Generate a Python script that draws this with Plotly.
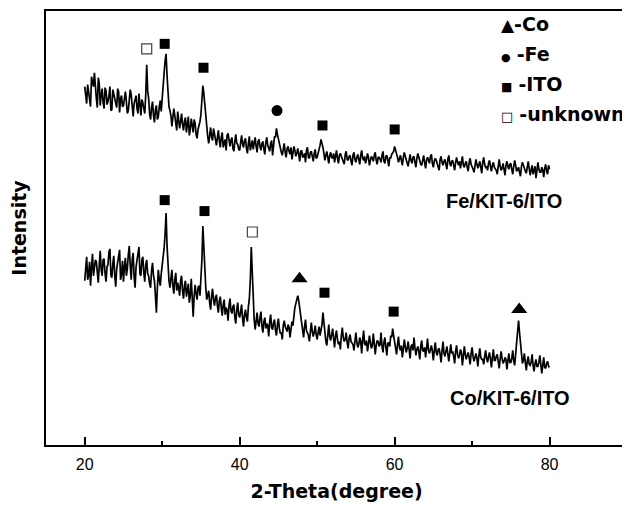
import plotly.graph_objects as go

# 2-theta grids (degrees): main points every 0.25 and in-between points
two_theta = [round(20 + 0.25 * i, 3) for i in range(241)]
two_theta_mid = [round(20.125 + 0.25 * j, 3) for j in range(240)]

# Fe/KIT-6/ITO intensity (a.u.)
fe_intensity = [
    360, 343, 355, 340, 366, 374, 348, 369, 341, 358,
    338, 356, 345, 360, 337, 352, 343, 358, 334, 351,
    341, 355, 333, 348, 352, 330, 346, 338, 353, 331,
    344, 333, 382, 348, 327, 345, 324, 341, 330, 346,
    352, 374, 393, 352, 336, 320, 338, 322, 335, 318,
    333, 316, 329, 321, 311, 328, 314, 323, 308, 320,
    332, 361, 342, 318, 303, 319, 306, 314, 301, 316,
    299, 314, 304, 296, 313, 300, 309, 295, 312, 302,
    296, 311, 299, 308, 293, 310, 301, 297, 309, 294,
    307, 296, 305, 292, 309, 298, 303, 291, 310, 318,
    307, 297, 291, 303, 289, 300, 292, 287, 300, 290,
    298, 285, 296, 290, 284, 299, 288, 295, 285, 297,
    289, 296, 307, 299, 286, 295, 283, 294, 288, 284,
    296, 283, 293, 287, 282, 295, 286, 291, 281, 294,
    284, 292, 282, 296, 286, 283, 293, 281, 290, 285,
    294, 282, 289, 284, 295, 283, 291, 280, 288, 293,
    300, 294, 284, 291, 281, 294, 285, 280, 292, 283,
    290, 279, 293, 284, 281, 291, 278, 289, 283, 292,
    279, 288, 283, 276, 290, 281, 287, 277, 291, 280,
    286, 276, 289, 281, 278, 290, 279, 285, 275, 288,
    280, 274, 287, 278, 285, 273, 289, 279, 276, 286,
    275, 284, 278, 272, 287, 276, 283, 271, 285, 277,
    283, 272, 286, 275, 279, 270, 284, 277, 273, 285,
    271, 281, 276, 268, 284, 274, 279, 269, 282, 272, 277,
]
fe_intensity_mid = [
    349, 362, 344, 370, 360, 356, 339, 363, 352, 344,
    359, 342, 351, 336, 357, 346, 339, 355, 348, 340,
    350, 345, 336, 357, 339, 343, 351, 333, 341, 347,
    338, 352, 356, 333, 339, 331, 337, 327, 340, 335,
    360, 386, 371, 340, 331, 327, 331, 316, 328, 325,
    322, 325, 314, 330, 317, 319, 327, 312, 317, 325,
    346, 353, 326, 310, 313, 309, 318, 307, 311, 306,
    309, 299, 307, 311, 303, 306, 298, 305, 303, 297,
    304, 302, 306, 298, 303, 296, 306, 302, 300, 305,
    300, 303, 297, 304, 301, 295, 306, 298, 309, 312,
    302, 294, 297, 294, 298, 295, 299, 293, 296, 293,
    292, 295, 289, 293, 296, 289, 294, 290, 293, 288,
    293, 301, 304, 293, 291, 289, 291, 289, 293, 290,
    288, 291, 290, 285, 292, 287, 290, 285, 291, 287,
    289, 287, 291, 288, 290, 287, 289, 286, 288, 291,
    286, 289, 287, 291, 285, 290, 286, 289, 292, 295,
    297, 289, 288, 286, 289, 290, 283, 288, 286, 289,
    284, 288, 289, 282, 288, 284, 286, 286, 290, 283,
    285, 286, 279, 287, 284, 285, 282, 287, 283, 285,
    281, 284, 284, 285, 284, 281, 283, 279, 284, 282,
    277, 283, 282, 281, 279, 284, 282, 280, 283, 280,
    281, 279, 276, 283, 280, 278, 277, 281, 280, 282,
    277, 280, 281, 277, 274, 280, 281, 275, 280, 278,
    276, 272, 280, 278, 277, 274, 276, 278, 275, 281,
]

# Co/KIT-6/ITO intensity (a.u.)
co_intensity = [
    165, 189, 171, 160, 192, 176, 184, 163, 195, 170,
    187, 164, 181, 197, 168, 190, 159, 183, 196, 172,
    164, 188, 177, 200, 166, 193, 158, 185, 199, 170,
    189, 164, 186, 170, 158, 183, 165, 133, 176, 160,
    180, 198, 233, 178, 158, 176, 152, 173, 163, 150,
    170, 147, 165, 156, 143, 167, 129, 161, 146, 160,
    168, 220, 172, 146, 155, 136, 157, 140, 151, 133,
    149, 130, 146, 138, 125, 147, 132, 141, 122, 143,
    128, 141, 119, 136, 124, 147, 199, 142, 116, 133,
    119, 134, 113, 128, 122, 109, 131, 116, 126, 110,
    127, 112, 106, 125, 115, 121, 108, 124, 131, 142,
    150, 137, 120, 108, 126, 112, 104, 123, 109, 120,
    106, 119, 115, 133, 110, 100, 121, 105, 117, 98,
    115, 101, 96, 118, 104, 113, 97, 111, 102, 95,
    113, 98, 108, 92, 115, 100, 94, 110, 97, 112,
    91, 105, 99, 113, 93, 108, 90, 103, 110, 117,
    102, 91, 109, 95, 88, 106, 93, 104, 87, 101,
    108, 90, 99, 86, 105, 94, 88, 107, 92, 100,
    85, 103, 90, 97, 83, 104, 89, 99, 84, 101,
    94, 82, 100, 87, 96, 80, 99, 86, 93, 81,
    98, 84, 92, 79, 97, 86, 81, 95, 83, 93,
    78, 96, 85, 91, 77, 94, 82, 88, 76, 92,
    83, 95, 80, 104, 125, 101, 82, 92, 75, 89,
    80, 91, 74, 86, 79, 90, 72, 88, 77, 84, 78,
]
co_intensity_mid = [
    178, 166, 184, 178, 170, 186, 171, 181, 176, 186,
    172, 179, 194, 171, 182, 170, 177, 190, 166, 185,
    179, 170, 191, 180, 186, 169, 179, 194, 172, 186,
    173, 181, 172, 162, 175, 170, 150, 158, 166, 172,
    189, 212, 200, 165, 170, 160, 166, 155, 158, 165,
    155, 160, 149, 162, 150, 140, 150, 152, 158, 150,
    186, 195, 158, 150, 143, 150, 146, 148, 140, 145,
    138, 141, 131, 136, 140, 135, 139, 128, 136, 131,
    134, 127, 131, 128, 139, 166, 174, 126, 127, 122,
    128, 119, 124, 117, 120, 124, 118, 123, 115, 121,
    117, 113, 120, 119, 114, 118, 116, 120, 138, 146,
    145, 128, 114, 119, 115, 110, 117, 114, 113, 111,
    113, 110, 121, 122, 104, 112, 109, 111, 107, 110,
    106, 104, 110, 108, 106, 103, 107, 104, 101, 108,
    103, 101, 104, 106, 102, 105, 101, 103, 100, 102,
    100, 104, 101, 99, 103, 98, 102, 99, 108, 110,
    97, 101, 98, 100, 96, 99, 97, 96, 99, 95,
    98, 96, 94, 99, 95, 98, 97, 95, 96, 94,
    95, 93, 96, 91, 95, 92, 94, 91, 93, 92,
    89, 94, 91, 90, 93, 89, 91, 90, 88, 92,
    89, 88, 87, 90, 88, 86, 89, 87, 89, 86,
    88, 85, 89, 84, 86, 87, 84, 86, 85, 83,
    87, 84, 91, 115, 113, 92, 85, 83, 84, 81,
    83, 80, 82, 79, 83, 81, 80, 78, 82, 79,
]
assert len(fe_intensity) == len(two_theta) == len(co_intensity)
assert len(fe_intensity_mid) == len(two_theta_mid) == len(co_intensity_mid)

# Phase markers above peaks
ito_x = [30.32, 35.33, 50.69, 60.01, 30.32, 35.46, 50.95, 59.88]
ito_y = [403, 379, 321, 317, 246, 235, 153, 134]
unknown_x = [28.0, 41.64]
unknown_y = [398, 214]
fe_x = [44.82]
fe_y = [336]
co_x = [47.73, 76.09]
co_y = [167, 136]

x_ticks = [20, 40, 60, 80]
x_minor = [30, 50, 70]


def merged(main, mid):
    pts = sorted(list(zip(two_theta, main)) + list(zip(two_theta_mid, mid)))
    return [p[0] for p in pts], [p[1] for p in pts]


fig = go.Figure()
for main, mid in ((fe_intensity, fe_intensity_mid), (co_intensity, co_intensity_mid)):
    xx, yy = merged(main, mid)
    fig.add_trace(go.Scatter(x=xx, y=yy, mode="lines",
                             line=dict(color="black", width=1.7), showlegend=False))

fig.add_trace(go.Scatter(x=ito_x, y=ito_y, mode="markers", showlegend=False,
                         marker=dict(symbol="square", size=10, color="black")))
fig.add_trace(go.Scatter(x=unknown_x, y=unknown_y, mode="markers", showlegend=False,
                         marker=dict(symbol="square-open", size=10, color="#444",
                                     line=dict(width=1.2, color="#444"))))
fig.add_trace(go.Scatter(x=fe_x, y=fe_y, mode="markers", showlegend=False,
                         marker=dict(symbol="circle", size=11, color="black")))
fig.add_trace(go.Scatter(x=co_x, y=co_y, mode="markers", showlegend=False,
                         marker=dict(symbol="triangle-up", size=14, color="black")))

lab_font = dict(family="Liberation Sans, Arial", size=20, color="black")
leg_font = dict(family="DejaVu Sans", size=19, color="black")
annotations = [
    dict(x=74.07, y=245, xref="x", yref="y", text="<b>Fe/KIT-6/ITO</b>",
         showarrow=False, font=lab_font),
    dict(x=74.85, y=47, xref="x", yref="y", text="<b>Co/KIT-6/ITO</b>",
         showarrow=False, font=lab_font),
]
legend_rows = [
    ("<span style='font-size:17px'>▲</span><b>-Co</b>", 22),
    ("<span style='font-size:11px'>●</span> <b>-Fe</b>", 52),
    ("<span style='font-size:12px'>■</span> <b>-ITO</b>", 82),
    ("<span style='font-size:13px'>□</span> <b>-unknown</b>", 112),
]
# body has an 8px default margin; plot area lands at page x 46..629, y 9..445
for txt, py in legend_rows:
    annotations.append(dict(x=(501 - 46) / 583, y=(445 - py) / 436, xref="paper", yref="paper",
                            xanchor="left", yanchor="middle", text=txt, showarrow=False,
                            font=leg_font))

fig.update_layout(
    width=622, height=497,
    margin=dict(l=38, r=1, t=1, b=60),
    paper_bgcolor="white", plot_bgcolor="white",
    annotations=annotations,
    xaxis=dict(range=[15, 90], tickvals=x_ticks, ticks="inside", ticklen=8, tickwidth=1.5,
               tickcolor="black", showgrid=False, zeroline=False, ticklabelstandoff=4,
               showline=True, mirror=True, linecolor="black", linewidth=1.5,
               minor=dict(tickvals=x_minor, ticks="inside", ticklen=4, tickwidth=1.5,
                          tickcolor="black", showgrid=False),
               tickfont=dict(family="Liberation Sans, Arial", size=16, color="black"),
               title=dict(text="<b>2-Theta(degree)</b>", standoff=13,
                          font=dict(family="DejaVu Sans", size=19, color="black"))),
    yaxis=dict(range=[0, 436], showticklabels=False, ticks="", showgrid=False, zeroline=False,
               showline=True, mirror=True, linecolor="black", linewidth=1.5,
               title=dict(text="<b>Intensity</b>", standoff=14,
                          font=dict(family="DejaVu Sans", size=19, color="black"))),
)

fig.write_html("out.html")
